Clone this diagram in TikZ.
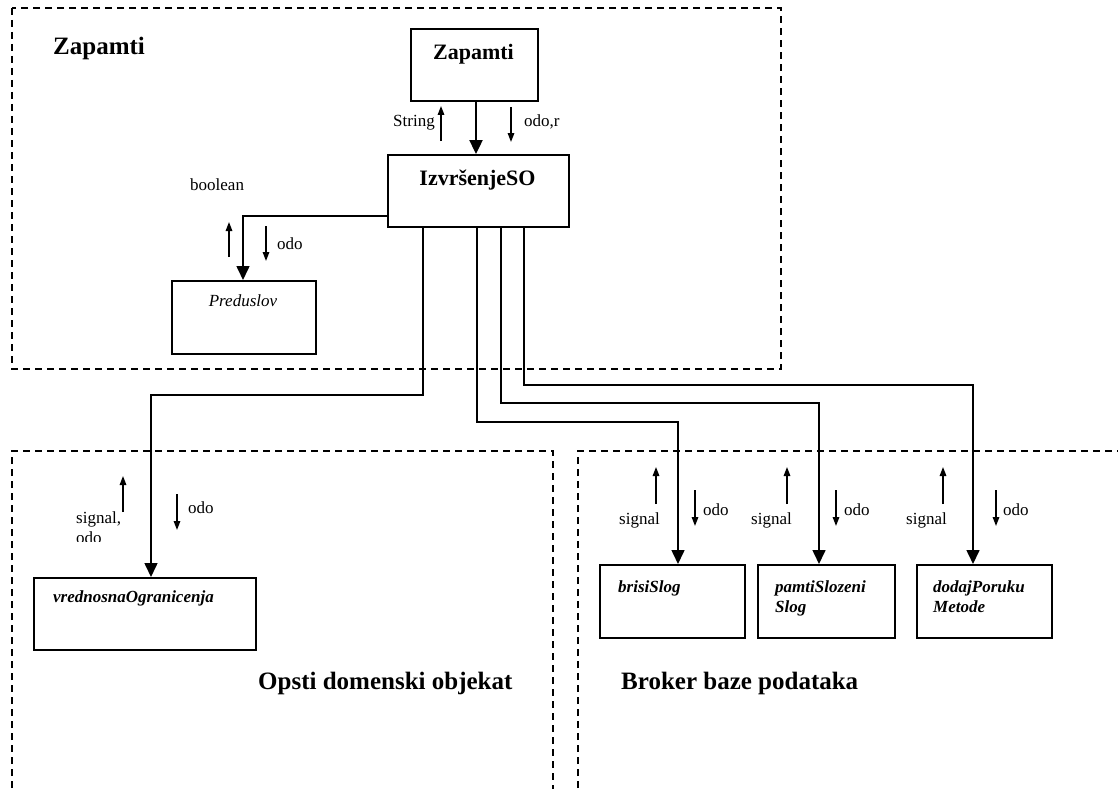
\documentclass[tikz,border=0pt]{standalone}
\usepackage{fontspec}
\setmainfont{Liberation Serif}
\usetikzlibrary{arrows.meta}
\newcommand\labfont{\fontsize{17}{20}\selectfont}
\newcommand\boxfont{\fontsize{22}{26}\selectfont\bfseries}
\newcommand\headfont{\fontsize{25}{30}\selectfont\bfseries}
\tikzset{
  region/.style={line width=1.5pt, dash pattern=on 7pt off 5pt},
  box/.style={draw, line width=1.8pt, inner sep=0pt, anchor=north west},
  txt/.style={inner sep=0pt, anchor=base west, font=\labfont},
  conn/.style={line width=1.6pt, -{Triangle[length=14pt,width=13pt]}},
  mainconn/.style={line width=2.4pt, -{Triangle[length=14pt,width=13pt]}},
  tiny/.style={line width=1.5pt, -{Triangle[length=9pt,width=6.5pt]}}
}
\begin{document}
\begin{tikzpicture}[x=1pt,y=-1pt]
\useasboundingbox (0,0) rectangle (1118,789);
% regions
\draw[region] (12,8) rectangle (781,369);
\draw[region] (12,800) -- (12,451) -- (553,451) -- (553,800);
\draw[region] (578,800) -- (578,451) -- (1130,451);
% boxes
\node[box, minimum width=127pt, minimum height=72pt] (zap) at (410,28) {};
\node[box, minimum width=181pt, minimum height=72pt] (izv) at (387,154) {};
\node[box, minimum width=144pt, minimum height=73pt] (pred) at (171,280) {};
\node[box, minimum width=222pt, minimum height=72pt] (vred) at (33,577) {};
\node[box, minimum width=145pt, minimum height=73pt] (brisi) at (599,564) {};
\node[box, minimum width=137pt, minimum height=73pt] (pamti) at (757,564) {};
\node[box, minimum width=135pt, minimum height=73pt] (dodaj) at (916,564) {};
% box texts
\node[inner sep=0pt, anchor=base, font=\boxfont] (tzap) at (473.5,60) {Zapamti};
\node[inner sep=0pt, anchor=base, font=\boxfont] (tizv) at (477.5,185) {Izvršenje\hspace{0pt}SO};
\node[inner sep=0pt, anchor=base, font=\labfont\itshape] (tpred) at (243,306) {Preduslov};
\node[txt, font=\labfont\bfseries\itshape] (tvred) at (53,602) {vrednosnaOgranicenja};
\node[txt, font=\labfont\bfseries\itshape] (tbrisi) at (618,592) {brisiSlog};
\node[txt, font=\labfont\bfseries\itshape] (tpamti1) at (775,592) {pamtiSlozeni};
\node[txt, font=\labfont\bfseries\itshape] (tpamti2) at (775,612) {Slog};
\node[txt, font=\labfont\bfseries\itshape] (tdodaj1) at (933,592) {dodajPoruku};
\node[txt, font=\labfont\bfseries\itshape] (tdodaj2) at (933,612) {Metode};
% headings
\node[txt, font=\headfont] (h1) at (53,55) {Zapamti};
\node[txt, font=\headfont] (h2) at (258,689) {Opsti domenski objekat};
\node[txt, font=\headfont] (h3) at (621,689) {Broker baze podataka};
% connectors
\draw[mainconn] ([xshift=66pt]zap.south west) -- ([xshift=66pt]zap.south west |- izv.north);
\draw[conn] ([yshift=12pt]izv.south west) -| ([xshift=72pt]pred.north west);
\draw[conn] ([xshift=36pt]izv.south west) -- ++(0,167) -| ([xshift=118pt]vred.north west);
\draw[conn] ([xshift=90pt]izv.south west) -- ++(0,194) -| ([xshift=79pt]brisi.north west);
\draw[conn] ([xshift=114pt]izv.south west) -- ++(0,175) -| ([xshift=62pt]pamti.north west);
\draw[conn] ([xshift=137pt]izv.south west) -- ++(0,157) -| ([xshift=57pt]dodaj.north west);
% small flow arrows and labels
\draw[tiny] (441,141) -- (441,106);
\draw[tiny] (511,107) -- (511,142);
\begin{scope}
\clip (380,100) rectangle (440,129);
\node[txt] (lstring) at (393,127) {String};
\end{scope}
\node[txt] (lodor) at (524,127) {odo,r};
\node[txt] (lbool) at (190,190) {boolean};
\draw[tiny] (229,257) -- (229,222);
\draw[tiny] (266,226) -- (266,261);
\node[txt] (lodo1) at (277,249) {odo};
\draw[tiny] (123,512) -- (123,476);
\draw[tiny] (177,494) -- (177,530);
\node[txt] (lodo2) at (188,513) {odo};
\begin{scope}
\clip (60,500) rectangle (140,541);
\node[txt] (lsig1) at (76,523) {signal,};
\node[txt] (lodo3) at (76,543) {odo};
\end{scope}
\draw[tiny] (656,504) -- (656,467);
\draw[tiny] (695,490) -- (695,526);
\node[txt] (ls1) at (619,524) {signal};
\node[txt] (lo1) at (703,515) {odo};
\draw[tiny] (787,504) -- (787,467);
\draw[tiny] (836,490) -- (836,526);
\node[txt] (ls2) at (751,524) {signal};
\node[txt] (lo2) at (844,515) {odo};
\draw[tiny] (943,504) -- (943,467);
\draw[tiny] (996,490) -- (996,526);
\node[txt] (ls3) at (906,524) {signal};
\node[txt] (lo3) at (1003,515) {odo};
\end{tikzpicture}
\end{document}
